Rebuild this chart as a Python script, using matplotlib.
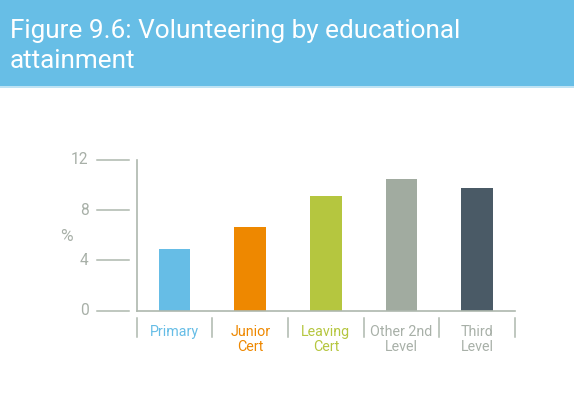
import matplotlib.pyplot as plt
from matplotlib.patches import Rectangle
from matplotlib.lines import Line2D

plt.rcParams['font.family'] = ['Roboto', 'DejaVu Sans']

# volunteering rate (%) by highest level of education
categories = ['Primary', 'Junior\nCert', 'Leaving\nCert', 'Other 2nd\nLevel', 'Third\nLevel']
values = [4.9, 6.7, 9.1, 10.5, 9.8]
colors = ['#66BDE6', '#EE8800', '#B5C63F', '#A1ABA0', '#4A5A66']
yticks = [0, 4, 8, 12]

axis_grey = '#AEB8AE'
text_grey = '#A8B0A8'

fig = plt.figure(figsize=(5.74, 4.16), dpi=100)

# title banner
fig.patches.append(Rectangle((0, 416 - 86), 574, 86, transform=None,
                             facecolor='#67BEE6', edgecolor='none', zorder=0))
fig.patches.append(Rectangle((0, 416 - 88), 574, 2, transform=None,
                             facecolor='#BFE3F4', edgecolor='none', zorder=0))
fig.text(10 / 574, 1 - 19 / 416, 'Figure 9.6: Volunteering by educational\nattainment',
         color='white', fontsize=18.8, ha='left', va='top', linespacing=1.33)

ax = fig.add_axes([136.7 / 574, 105.3 / 416, (515 - 136.7) / 574, 150.7 / 416])
x = range(len(categories))
ax.bar(x, values, width=0.42, color=colors, zorder=2)

ax.set_xlim(-0.5, len(categories) - 0.5)
ax.set_ylim(0, 12)
for s in ['top', 'right']:
    ax.spines[s].set_visible(False)
for s in ['left', 'bottom']:
    ax.spines[s].set_color(axis_grey)
    ax.spines[s].set_linewidth(1.2)

# y ticks: short dashes set off from the axis
ax.set_yticks([])
for t in yticks:
    ax.add_line(Line2D([-0.106, -0.02], [t, t], color=axis_grey, lw=1.1,
                       transform=ax.get_yaxis_transform(), clip_on=False))
    ax.text(-0.127, t, str(t), transform=ax.get_yaxis_transform(),
            ha='right', va='center', fontsize=11.2, color=text_grey)
ax.text(-0.187, 0.49, '%', transform=ax.transAxes, ha='center', va='center',
        fontsize=12.5, color=text_grey)

# category labels with separator ticks below the axis
ax.set_xticks([])
for i in range(len(categories) + 1):
    ax.add_line(Line2D([i - 0.5, i - 0.5], [-0.048, -0.175], color=axis_grey, lw=1.1,
                       transform=ax.get_xaxis_transform(), clip_on=False))
for i, (lab, c) in enumerate(zip(categories, colors)):
    ax.text(i, -0.095, lab, transform=ax.get_xaxis_transform(), ha='center', va='top',
            fontsize=10.3, color=c if i < 3 else text_grey, linespacing=1.1)

fig.savefig('out.png', dpi=100)
